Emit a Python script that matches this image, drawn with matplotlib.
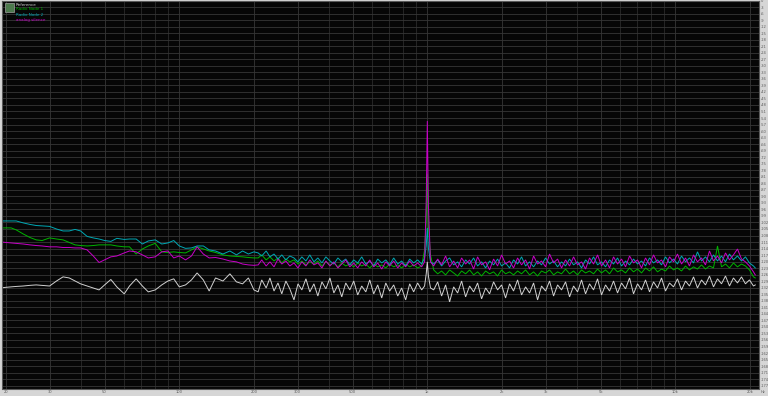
import numpy as np
import matplotlib
matplotlib.use("Agg")
import matplotlib.pyplot as plt
from matplotlib.patches import Rectangle

# RTA readout: frequency (Hz) and level (dBFS) per trace
freq_hz = [19, 20, 21, 22, 23.5, 25, 26.5, 28, 30, 32, 34, 36, 38, 40, 42.5, 45, 47.5, 50, 53, 56,
           60, 63, 67, 71, 75, 80, 85, 90, 95, 100, 106, 112, 118, 125, 132, 140, 150, 160, 170, 180,
           190, 200,
           208, 215, 224, 232, 241, 250, 259, 269, 279, 290, 301, 312, 324, 336, 349, 362, 376, 390,
           405, 420, 436, 452, 469, 487, 505, 524, 544, 565, 586, 608, 631, 655, 680, 705, 732, 760,
           788, 818, 849, 881, 914, 949,
           975, 990, 1000, 1010, 1030,
           1061, 1101, 1142, 1185, 1230, 1277, 1325, 1375, 1427, 1481, 1537, 1595, 1655, 1718, 1783,
           1850, 1920, 1993, 2068, 2146, 2227, 2312, 2399, 2490, 2584, 2682, 2783, 2888, 2998, 3111,
           3229, 3351, 3477, 3609, 3745, 3887, 4034, 4186, 4345, 4509, 4680, 4857, 5040, 5231, 5429,
           5634, 5847, 6068, 6298, 6536, 6783, 7040, 7306, 7582, 7869, 8166, 8475, 8796, 9128, 9473,
           9832, 10200, 10590, 10990, 11400, 11840, 12280, 12750, 13230, 13730, 14250, 14790, 15350,
           15930, 16530, 17150, 17800, 18480, 19170, 19900, 20650, 21000]

reference_db = [-132.1, -131.8, -131.6, -131.4, -131.2, -130.9, -130.7, -130.9, -131.2, -128.9,
                -127.0, -127.5, -128.9, -130.2, -131.2, -132.1, -133.0, -130.7, -128.2, -131.6,
                -134.8, -131.2, -127.9, -131.2, -133.9, -133.0, -130.7, -128.9, -127.9, -131.6,
                -130.7, -128.4, -125.2, -128.4, -133.5, -127.5, -128.9, -125.6, -129.3, -130.2,
                -127.5, -133.0,
                -133.9, -128.4, -132.1, -127.5, -133.5, -129.8, -134.8, -128.9, -132.5, -137.6,
                -130.2, -133.0, -127.9, -133.9, -130.2, -135.8, -129.3, -132.5, -127.5, -134.4,
                -130.7, -136.2, -129.8, -133.0, -128.9, -135.3, -131.2, -133.9, -128.4, -134.8,
                -130.7, -136.7, -129.8, -133.5, -130.7, -135.8, -132.1, -137.6, -130.2, -133.9,
                -129.8, -133.0,
                -131.2, -125.6, -120.1, -126.6, -132.1,
                -133.0, -129.3, -135.8, -130.7, -138.5, -131.6, -134.4, -128.9, -136.2, -131.2,
                -133.9, -129.8, -137.1, -132.1, -134.8, -129.3, -133.0, -130.7, -136.7, -130.2,
                -133.5, -128.4, -135.3, -131.6, -134.4, -129.8, -137.6, -131.2, -133.5, -128.9,
                -135.8, -130.7, -133.0, -129.3, -136.2, -131.2, -133.9, -128.4, -134.8, -130.2,
                -133.0, -127.9, -135.3, -130.7, -133.5, -128.9, -134.4, -129.8, -132.5, -127.5,
                -134.8, -130.2, -133.0, -128.4, -133.9, -129.3, -132.1, -127.5, -133.5, -129.8,
                -131.6, -127.9, -133.0, -128.9, -131.2, -127.0, -132.1, -128.4, -130.7, -126.6,
                -131.6, -127.9, -130.2, -126.6, -131.2, -127.5, -129.8, -127.0, -130.2, -128.4,
                -131.2, -130.7]

node1_db = [-104.5, -104.5, -104.5, -105.4, -107.3, -108.9, -110.0, -110.3, -109.1, -109.6,
            -110.0, -111.2, -112.3, -112.6, -112.8, -112.6, -112.3, -112.3, -112.3, -112.8,
            -113.2, -113.2, -116.5, -114.2, -112.8, -111.6, -115.5, -115.8, -115.5, -115.8,
            -116.0, -114.6, -113.2, -114.2, -115.1, -115.8, -116.9, -117.4, -117.6, -117.8,
            -118.1, -118.3,
            -118.3, -116.9, -119.2, -117.8, -119.7, -118.3, -120.6, -118.8, -120.1, -119.2,
            -121.1, -119.7, -121.5, -120.1, -121.1, -119.7, -122.0, -120.1, -121.5, -120.6,
            -122.4, -120.6, -122.0, -121.1, -122.4, -120.6, -122.0, -121.1, -122.9, -121.1,
            -122.4, -121.5, -122.9, -121.1, -122.4, -121.5, -122.9, -121.1, -122.4, -121.5,
            -122.9, -122.0,
            -114.6, -101.7, -79.7, -103.6, -116.9,
            -123.8, -125.6, -124.3, -126.1, -123.8, -125.2, -126.6, -124.3, -125.6, -123.8,
            -126.1, -124.7, -126.6, -124.3, -125.6, -124.7, -126.6, -123.8, -125.6, -124.7,
            -126.1, -124.3, -125.6, -123.8, -126.1, -124.7, -126.6, -124.3, -125.2, -123.8,
            -126.1, -124.7, -125.6, -123.4, -125.6, -124.3, -126.1, -123.8, -125.2, -124.3,
            -125.6, -123.4, -125.2, -123.8, -125.6, -122.9, -124.7, -123.8, -125.2, -122.9,
            -124.7, -123.4, -125.2, -122.9, -124.3, -122.4, -124.7, -123.4, -124.3, -122.0,
            -123.8, -122.9, -124.3, -122.0, -123.8, -122.4, -123.4, -121.5, -123.4, -122.0,
            -122.9, -112.8, -122.4, -121.1, -122.9, -120.6, -122.4, -121.1, -122.0, -123.8,
            -127.0, -127.5]

node2_db = [-101.3, -101.3, -101.3, -101.3, -102.2, -102.9, -103.4, -103.6, -103.8, -105.0,
            -105.9, -105.9, -105.2, -105.9, -108.4, -109.1, -109.6, -110.3, -110.7, -109.3,
            -109.8, -109.6, -109.6, -111.9, -110.5, -110.0, -111.9, -111.4, -110.3, -112.8,
            -113.9, -113.7, -112.8, -112.8, -114.6, -115.1, -116.5, -115.1, -116.9, -115.1,
            -116.5, -115.5,
            -116.0, -117.4, -115.1, -117.8, -116.5, -118.8, -116.9, -119.2, -117.4, -118.3,
            -120.1, -117.8, -119.7, -116.9, -120.1, -118.3, -120.6, -117.8, -119.7, -121.1,
            -118.3, -120.1, -118.8, -121.5, -119.2, -120.6, -117.8, -121.1, -119.7, -122.0,
            -118.8, -120.6, -119.2, -121.5, -118.3, -121.1, -119.7, -122.0, -118.8, -120.6,
            -119.2, -121.1,
            -118.3, -112.8, -104.5, -113.7, -120.1,
            -121.1, -119.2, -122.0, -119.7, -118.3, -121.5, -120.1, -122.4, -119.2, -121.1,
            -118.3, -122.0, -120.1, -122.9, -119.7, -121.5, -118.8, -122.0, -120.6, -122.9,
            -119.2, -121.1, -117.8, -122.0, -120.1, -122.4, -119.7, -121.5, -118.3, -121.1,
            -119.7, -122.4, -120.1, -122.0, -118.8, -121.5, -120.1, -122.9, -119.2, -121.1,
            -117.8, -121.5, -120.1, -122.4, -119.2, -121.1, -118.3, -122.0, -119.7, -121.5,
            -118.8, -121.1, -119.7, -122.0, -118.3, -120.6, -119.2, -121.5, -117.8, -120.6,
            -118.8, -121.1, -117.4, -120.1, -118.3, -120.6, -115.5, -119.7, -117.8, -120.1,
            -116.9, -119.7, -117.4, -120.1, -116.5, -119.2, -117.4, -119.7, -117.8, -120.6,
            -122.0, -122.9]

silence_db = [-110.9, -111.2, -111.4, -111.6, -111.9, -112.3, -112.6, -112.8, -113.2, -113.2,
              -113.5, -113.5, -113.7, -113.7, -114.6, -117.4, -120.4, -119.2, -117.8, -117.4,
              -116.0, -115.1, -115.5, -116.9, -118.3, -117.8, -115.5, -115.1, -118.3, -117.4,
              -119.2, -117.4, -113.2, -116.5, -118.3, -118.1, -118.8, -119.7, -120.1, -121.1,
              -121.5, -121.7,
              -121.5, -119.2, -122.0, -120.1, -122.4, -118.8, -121.1, -119.7, -122.0, -120.6,
              -122.9, -120.1, -122.0, -119.2, -121.5, -120.6, -122.9, -119.7, -122.0, -120.1,
              -122.9, -121.1, -119.2, -122.4, -120.6, -122.9, -120.1, -122.0, -119.2, -122.4,
              -120.6, -123.4, -120.1, -122.0, -119.7, -122.9, -120.6, -122.4, -119.7, -122.0,
              -120.6, -122.4,
              -120.1, -91.7, -55.4, -93.9, -120.1,
              -122.0, -118.8, -121.5, -117.4, -122.4, -119.7, -122.9, -118.3, -121.1, -119.2,
              -123.4, -117.8, -121.5, -120.1, -123.8, -118.8, -122.0, -116.9, -121.1, -119.7,
              -122.9, -118.3, -121.5, -119.2, -123.4, -117.4, -121.1, -119.7, -122.4, -116.5,
              -120.6, -118.8, -122.9, -119.2, -122.0, -117.8, -121.5, -120.1, -123.4, -118.3,
              -121.1, -116.9, -122.0, -119.2, -122.9, -117.8, -121.1, -118.8, -122.4, -117.4,
              -120.6, -119.2, -122.9, -118.3, -121.5, -116.9, -120.6, -119.2, -122.4, -117.8,
              -120.1, -116.5, -121.1, -118.3, -122.0, -116.9, -120.1, -118.3, -121.5, -115.1,
              -119.7, -117.4, -120.6, -116.0, -119.2, -116.9, -114.2, -118.8, -120.1, -122.0,
              -124.7, -126.1]

trace_names = ["Reference", "Radio Node 1", "Radio Node 2", "analog silence"]
trace_colors = ["#d2d2d2", "#00b400", "#00a8b4", "#c800c8"]

xtick_vals = [20, 30, 50, 100, 200, 300, 500, 1000, 2000, 3000, 5000, 10000, 20000]
xtick_text = ["20", "30", "50", "100", "200", "300", "500", "1k", "2k", "3k", "5k", "10k", "20k"]
ytick_vals = list(range(0, -180, -3))

W, H = 768, 396
fig = plt.figure(figsize=(W / 100, H / 100), dpi=100, facecolor="#d6d6d6")
ax = fig.add_axes([1.5 / W, 7.5 / H, 757.5 / W, 388.0 / H])
ax.set_facecolor("#060606")

for lev, col in zip([reference_db, node1_db, node2_db, silence_db], trace_colors):
    ax.plot(freq_hz, lev, color=col, lw=0.7, solid_joinstyle="miter")

ax.set_xscale("log")
ax.set_xlim(19.2, 21740)
ax.set_ylim(-178.3, 0)

minor = [m * d for d in (10, 100, 1000, 10000) for m in range(2, 10) if m * d not in xtick_vals]
minor = [v for v in minor if 19 < v < 21740]
ax.set_xticks(xtick_vals)
ax.set_xticklabels(xtick_text)
ax.set_xticks(minor, minor=True)
ax.set_xticklabels([], minor=True)
ax.set_yticks(ytick_vals)
ax.set_yticklabels([str(v) for v in ytick_vals])
ax.yaxis.tick_right()

ax.grid(True, which="major", color="#363636", lw=0.6)
ax.grid(True, which="minor", axis="x", color="#2a2a2a", lw=0.6)
ax.tick_params(axis="both", which="both", length=0, labelsize=2.6, colors="#5a5a5a", pad=1)
for s in ax.spines.values():
    s.set_color("#5a5a5a")
    s.set_linewidth(0.8)

fig.text(763 / W, 1 - 392 / H, "Hz", fontsize=2.6, color="#5a5a5a", ha="center", va="center")

# legend block in the top-left corner
fig.add_artist(Rectangle((5 / W, 1 - 12 / H), 9 / W, 9 / H, transform=fig.transFigure,
                         facecolor="#4d7a4d", edgecolor="#a0a0a0", lw=0.5))
for i, (name, col) in enumerate(zip(trace_names, trace_colors)):
    fig.text(16 / W, 1 - (4.5 + 5 * i) / H, name, fontsize=3, color=col, ha="left", va="center")

fig.savefig("out.png", dpi=100, facecolor=fig.get_facecolor())
